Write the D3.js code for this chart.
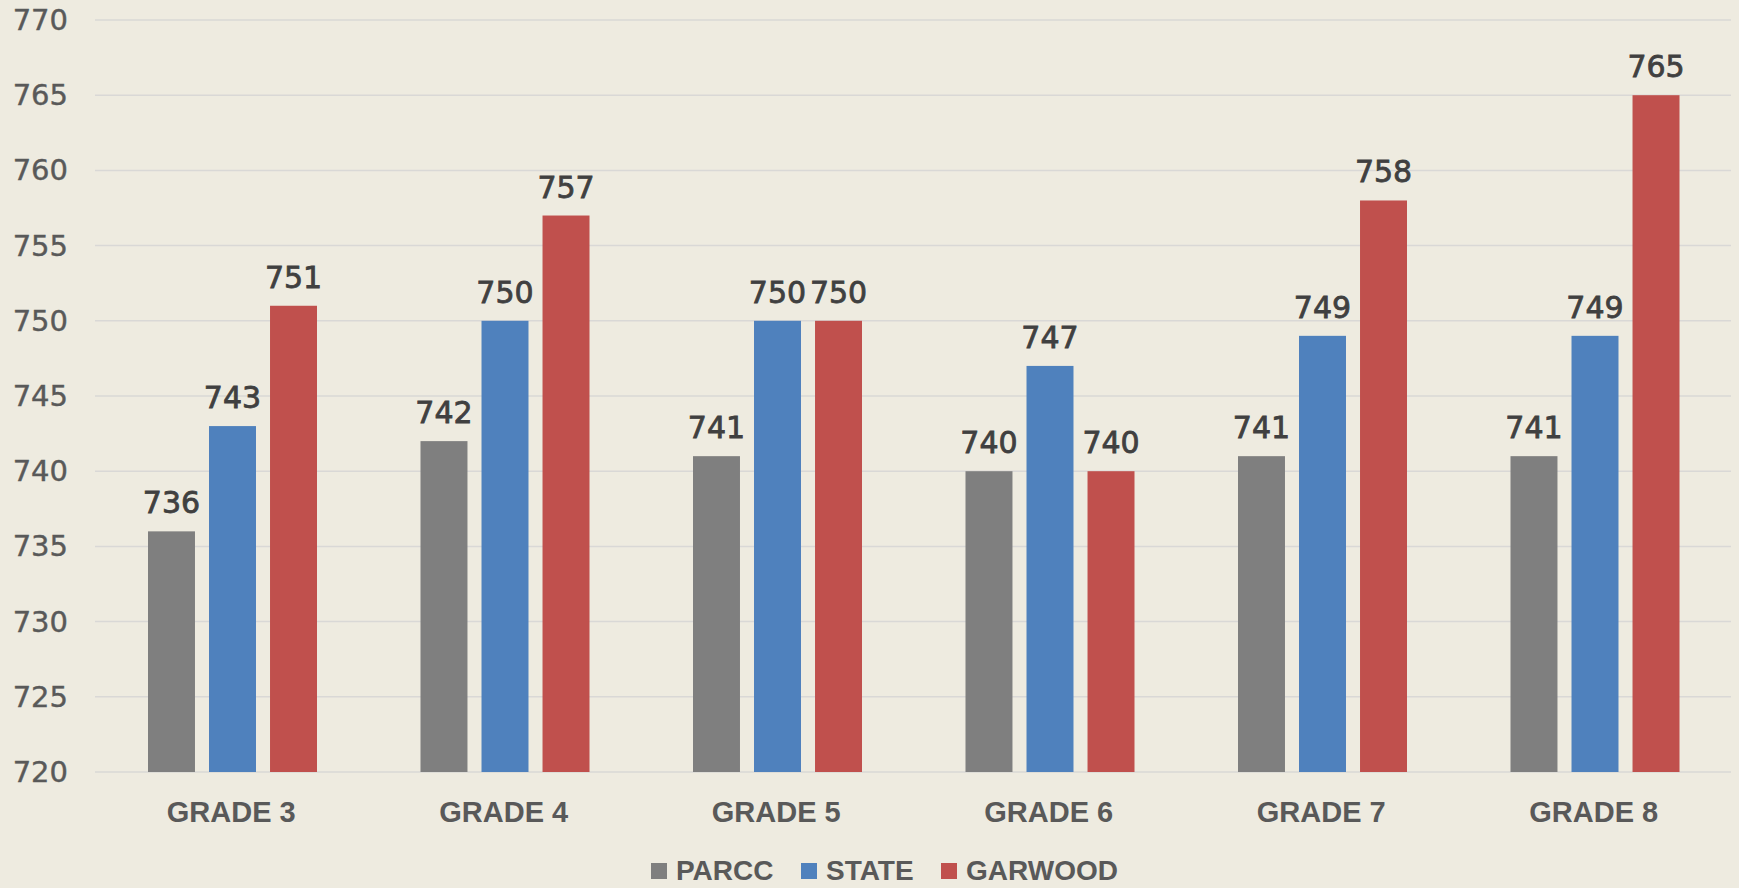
<!DOCTYPE html>
<html>
<head>
<meta charset="utf-8">
<script src="https://cdn.jsdelivr.net/npm/d3@7"></script>
<style>
  body { margin: 0; background: #eeebe0; }
  text { font-family: "Liberation Sans", Arial, sans-serif; }
  .num { font-family: "DejaVu Sans", sans-serif; }
</style>
</head>
<body>
<div id="chart"></div>
<script>
// data
var grades = ["GRADE 3", "GRADE 4", "GRADE 5", "GRADE 6", "GRADE 7", "GRADE 8"];
var series = ["PARCC", "STATE", "GARWOOD"];
var parcc = [736, 742, 741, 740, 741, 741];
var state = [743, 750, 750, 747, 749, 749];
var garwood = [751, 757, 750, 740, 758, 765];
var yTicks = [720, 725, 730, 735, 740, 745, 750, 755, 760, 765, 770];
var colors = ["#7f7f7f", "#4f81bd", "#c0504d"];

var width = 1739, height = 888;
var values = [parcc, state, garwood];

var svg = d3.select("#chart").append("svg")
    .attr("width", width)
    .attr("height", height);

svg.append("rect").attr("width", width).attr("height", height).attr("fill", "#eeebe0");

var x0 = d3.scaleBand().domain(grades).range([95, 1730]);
var x1 = d3.scaleBand().domain(series).range([53, 222]).paddingInner(0.23);
var y = d3.scaleLinear().domain([720, 770]).range([772, 20]);
var color = d3.scaleOrdinal().domain(series).range(colors);

// gridlines
svg.append("g")
    .selectAll("line")
    .data(yTicks)
    .join("line")
    .attr("x1", 95)
    .attr("x2", 1731)
    .attr("y1", d => y(d))
    .attr("y2", d => y(d))
    .attr("stroke", "#d9d8d6")
    .attr("stroke-width", 1.5);

// y axis labels
svg.append("g")
    .selectAll("text")
    .data(yTicks)
    .join("text")
    .attr("class", "num")
    .attr("x", 68)
    .attr("y", d => y(d))
    .attr("text-anchor", "end")
    .attr("dominant-baseline", "central")
    .attr("font-size", "29px")
    .attr("fill", "#595959")
    .attr("stroke", "#595959")
    .attr("stroke-width", 0.4)
    .text(d => d);

// bars
var rows = [];
grades.forEach((g, i) => {
    series.forEach((s, j) => {
        rows.push({ grade: g, series: s, value: values[j][i] });
    });
});

svg.append("g")
    .selectAll("rect")
    .data(rows)
    .join("rect")
    .attr("x", d => x0(d.grade) + x1(d.series))
    .attr("y", d => y(d.value))
    .attr("width", x1.bandwidth())
    .attr("height", d => y(720) - y(d.value))
    .attr("fill", d => color(d.series));

// data labels
svg.append("g")
    .selectAll("text")
    .data(rows)
    .join("text")
    .attr("class", "num")
    .attr("x", d => x0(d.grade) + x1(d.series) + x1.bandwidth() / 2)
    .attr("y", d => y(d.value) - 18)
    .attr("text-anchor", "middle")
    .attr("font-size", "30px")
    .attr("fill", "#404040")
    .attr("stroke", "#404040")
    .attr("stroke-width", 0.8)
    .text(d => d.value);

// x axis labels
svg.append("g")
    .selectAll("text")
    .data(grades)
    .join("text")
    .attr("x", d => x0(d) + x0.bandwidth() / 2)
    .attr("y", 822)
    .attr("text-anchor", "middle")
    .attr("font-size", "29px")
    .attr("font-weight", "bold")
    .attr("fill", "#595959")
    .text(d => d);

// legend
var legendX = [651, 801, 941];
var legend = svg.append("g")
    .selectAll("g")
    .data(series)
    .join("g")
    .attr("transform", (d, i) => "translate(" + legendX[i] + ",0)");
legend.append("rect")
    .attr("x", 0)
    .attr("y", 863)
    .attr("width", 16)
    .attr("height", 16)
    .attr("fill", d => color(d));
legend.append("text")
    .attr("x", 25)
    .attr("y", 880)
    .attr("font-size", "28px")
    .attr("font-weight", "bold")
    .attr("fill", "#595959")
    .text(d => d);
</script>
</body>
</html>
